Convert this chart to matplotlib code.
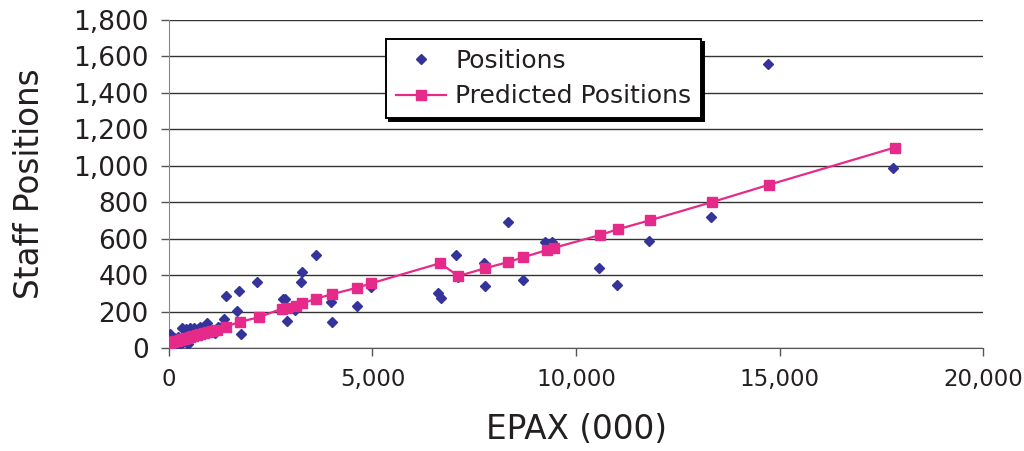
import matplotlib
matplotlib.use("Agg")
import matplotlib.pyplot as plt
from matplotlib.ticker import MultipleLocator, FuncFormatter

# Observed staff positions vs EPAX (thousands)
epax_obs = [20, 40, 60, 90, 120, 150, 180, 210, 250, 280, 310, 350, 390, 430,
            470, 520, 560, 610, 660, 710, 770, 830, 900, 940, 1050, 1120, 1200,
            1300, 1350, 1410, 1680, 1730, 1760, 2160, 2790, 2850, 2910, 3100,
            3240, 3280, 3610, 3980, 4000, 4610, 4960, 6610, 6680, 7060, 7090,
            7730, 7760, 8320, 8700, 9250, 9420, 10560, 11000, 11790, 13320,
            14710, 17790]
staff_obs = [75, 10, 40, 20, 55, 5, 30, 60, 15, 45, 110, 35, 70, 105,
             20, 110, 60, 112, 80, 105, 115, 95, 110, 135, 100, 85, 115,
             120, 157, 285, 205, 313, 75, 362, 269, 267, 148, 209,
             362, 415, 509, 251, 144, 232, 336, 304, 276, 510, 388,
             465, 340, 690, 373, 583, 580, 437, 346, 589, 721,
             1560, 985]

# Regression predictions, in the same x order as plotted
epax_pred = [20, 60, 100, 150, 200, 260, 320, 380, 450, 520, 600, 680, 760,
             850, 950, 1060, 1180, 1390, 1750, 2200, 2780, 2900, 3120, 3280,
             3620, 4000, 4630, 4970, 6660, 7110, 7760, 8340, 8710, 9290, 9450,
             10590, 11020, 11820, 13330, 14730, 17830]
staff_pred = [30, 32, 34, 37, 40, 43, 47, 51, 55, 60, 65, 70, 75,
              80, 87, 94, 101, 117, 144, 168, 216, 220, 230, 245,
              271, 295, 331, 355, 465, 395, 437, 472, 498, 538, 549,
              620, 651, 701, 800, 895, 1100]

blue = "#333399"
pink = "#E62A8A"
txt = "#231F20"

plt.rcParams["font.family"] = ["DejaVu Sans"]

fig = plt.figure(figsize=(10.24, 4.51), dpi=100)
ax = fig.add_axes([0.165, 0.2284, 0.795, 0.7273])

ax.plot(epax_obs, staff_obs, linestyle="none", marker="D", markersize=5.2,
        color=blue, label="Positions", zorder=3)
ax.plot(epax_pred, staff_pred, color=pink, lw=1.6, marker="s", markersize=7,
        label="Predicted Positions", zorder=4)

ax.set_xlim(0, 20000)
ax.set_ylim(0, 1800)
ax.xaxis.set_major_locator(MultipleLocator(5000))
ax.yaxis.set_major_locator(MultipleLocator(200))
fmt = FuncFormatter(lambda v, p: f"{int(v):,}")
ax.xaxis.set_major_formatter(fmt)
ax.yaxis.set_major_formatter(fmt)

ax.grid(axis="y", color="#333333", lw=1)
ax.yaxis.get_gridlines()[-1].set_color("#999999")
ax.set_axisbelow(True)
for s in ["top", "right"]:
    ax.spines[s].set_visible(False)
ax.spines["left"].set_color("#888888")
ax.spines["bottom"].set_color("#555555")
ax.tick_params(axis="both", direction="out", length=5.5, width=1,
               color="#555555", labelcolor=txt, pad=9)
ax.tick_params(axis="y", labelsize=19)
ax.tick_params(axis="x", labelsize=16.5)

ax.set_xlabel("EPAX (000)", fontsize=23.5, color=txt, labelpad=16)
ax.set_ylabel("Staff Positions", fontsize=23.5, color=txt, labelpad=20)

leg = ax.legend(loc="upper left", bbox_to_anchor=(0.267, 0.942), fontsize=18,
                frameon=True, fancybox=False, edgecolor="black",
                framealpha=1, handlelength=2.0, handletextpad=0.35,
                labelspacing=0.45, borderpad=0.4, borderaxespad=0,
                shadow={"color": "black", "alpha": 1})
leg.get_frame().set_linewidth(1.4)
for t in leg.get_texts():
    t.set_color(txt)

fig.savefig("out.png", dpi=100)
